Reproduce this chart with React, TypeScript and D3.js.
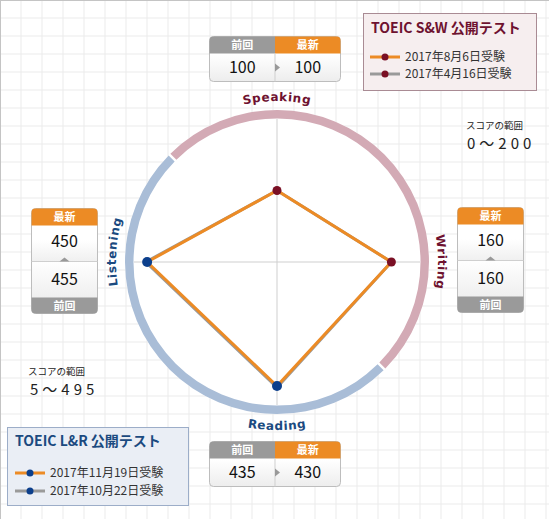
import * as React from "react";
import * as d3 from "d3";

const W = 549;
const H = 519;

// axes clockwise from top
const axisNames = ["Speaking", "Writing", "Reading", "Listening"];
const axisMin = [0, 0, 5, 5];
const axisMax = [200, 200, 495, 495];
const latestScores = [100, 160, 430, 450];
const previousScores = [100, 160, 435, 455];

const swTitle = "TOEIC S&W 公開テスト";
const swDates = ["2017年8月6日受験", "2017年4月16日受験"];
const lrTitle = "TOEIC L&R 公開テスト";
const lrDates = ["2017年11月19日受験", "2017年10月22日受験"];
const rangeCaption = "スコアの範囲";
const swRange = "0～200";
const lrRange = "5～495";

const ORANGE = "#ec8b25";
const GRAY = "#9a9a9a";
const MAROON = "#6e1230";
const NAVY = "#1b4a80";
const JP = "'Noto Sans CJK JP', 'Noto Sans', sans-serif";

const cx = 277;
const cy = 262;
const R = 143;

const HBox = ({ x, y, prev, latest }: { x: number; y: number; prev: number; latest: number }) => {
  const w = 131, h = 45, hh = 17, mid = x + w / 2;
  return (
    <g fontFamily={JP}>
      <rect x={x} y={y} width={w} height={h} rx={4} fill="url(#boxGrad)" stroke="#bdbdbd" />
      <path d={`M${x + 4},${y}H${mid}V${y + hh}H${x}V${y + 4}Q${x},${y} ${x + 4},${y}Z`} fill={GRAY} />
      <path d={`M${mid},${y}H${x + w - 4}Q${x + w},${y} ${x + w},${y + 4}V${y + hh}H${mid}Z`} fill={ORANGE} />
      <line x1={mid} x2={mid} y1={y + hh} y2={y + h} stroke="#cfcfcf" />
      <path d={`M${mid},${y + 27}l5,4l-5,4Z`} fill="#999" />
      <text x={x + w / 4} y={y + 12.5} textAnchor="middle" fontSize={11} fontWeight="bold" fill="#fff">前回</text>
      <text x={x + (3 * w) / 4} y={y + 12.5} textAnchor="middle" fontSize={11} fontWeight="bold" fill="#fff">最新</text>
      <text x={x + w / 4} y={y + 36} textAnchor="middle" fontSize={16} fill="#111">{prev}</text>
      <text x={x + (3 * w) / 4} y={y + 36} textAnchor="middle" fontSize={16} fill="#111">{latest}</text>
    </g>
  );
};

const VBox = ({ x, y, prev, latest }: { x: number; y: number; prev: number; latest: number }) => {
  const w = 66, h = 105, hh = 17, fh = 16, mid = y + 53, c = x + w / 2;
  return (
    <g fontFamily={JP}>
      <rect x={x} y={y} width={w} height={h} rx={4} fill="url(#boxGradV)" stroke="#bdbdbd" />
      <path d={`M${x + 4},${y}H${x + w - 4}Q${x + w},${y} ${x + w},${y + 4}V${y + hh}H${x}V${y + 4}Q${x},${y} ${x + 4},${y}Z`} fill={ORANGE} />
      <path d={`M${x},${y + h - fh}H${x + w}V${y + h - 4}Q${x + w},${y + h} ${x + w - 4},${y + h}H${x + 4}Q${x},${y + h} ${x},${y + h - 4}Z`} fill={GRAY} />
      <line x1={x} x2={x + w} y1={mid} y2={mid} stroke="#cfcfcf" />
      <path d={`M${c - 5},${mid}l5,-4l5,4Z`} fill="#999" />
      <text x={c} y={y + 12.5} textAnchor="middle" fontSize={11} fontWeight="bold" fill="#fff">最新</text>
      <text x={c} y={y + h - 3.5} textAnchor="middle" fontSize={11} fontWeight="bold" fill="#fff">前回</text>
      <text x={c} y={y + 38} textAnchor="middle" fontSize={16} fill="#111">{latest}</text>
      <text x={c} y={y + 76} textAnchor="middle" fontSize={16} fill="#111">{prev}</text>
    </g>
  );
};

export default function App() {
  const scales = axisNames.map((_, i) =>
    d3.scaleLinear().domain([axisMin[i], axisMax[i]]).range([0, R])
  );
  const angle = (i: number) => (i * Math.PI) / 2;
  const radial = d3
    .lineRadial<number>()
    .angle((_, i) => angle(i))
    .radius((d, i) => scales[i](d))
    .curve(d3.curveLinearClosed);
  const pt = (v: number, i: number) => {
    const r = scales[i](v);
    return [Math.sin(angle(i)) * r, -Math.cos(angle(i)) * r];
  };

  const arc = d3.arc<{ s: number; e: number }>()
    .innerRadius(143.5)
    .outerRadius(152)
    .startAngle((d) => d.s)
    .endAngle((d) => d.e)
    .padAngle(0.012);

  const vLines = d3.range(21, W, 21);
  const hLines = d3.range(18, H, 18);

  const rT = 161;
  const rB = 168;
  const topPath = `M${cx - rT},${cy}A${rT},${rT} 0 0 1 ${cx + rT},${cy}`;
  const rightPath = `M${cx},${cy - rT}A${rT},${rT} 0 0 1 ${cx},${cy + rT}`;
  const leftPath = `M${cx},${cy + rT}A${rT},${rT} 0 0 1 ${cx},${cy - rT}`;
  const bottomPath = `M${cx - rB},${cy}A${rB},${rB} 0 0 0 ${cx + rB},${cy}`;
  const labelStyle = { fontFamily: "'DejaVu Sans', sans-serif", fontSize: 12, fontWeight: "bold" as const, letterSpacing: 0.6 };

  return (
    <svg width={W} height={H} style={{ position: "absolute", left: 0, top: 0 }}>
      <defs>
        <linearGradient id="boxGrad" x1="0" y1="0" x2="0" y2="1">
          <stop offset="0.4" stopColor="#ffffff" />
          <stop offset="1" stopColor="#ededed" />
        </linearGradient>
        <linearGradient id="boxGradV" x1="0" y1="0" x2="0" y2="1">
          <stop offset="0.3" stopColor="#ffffff" />
          <stop offset="0.5" stopColor="#f0f0f0" />
          <stop offset="0.5" stopColor="#ffffff" />
          <stop offset="0.85" stopColor="#efefef" />
        </linearGradient>
        <path id="pTop" d={topPath} />
        <path id="pRight" d={rightPath} />
        <path id="pLeft" d={leftPath} />
        <path id="pBottom" d={bottomPath} />
      </defs>
      <rect width={W} height={H} fill="#fff" />
      {vLines.map((x) => (
        <line key={"v" + x} x1={x} x2={x} y1={0} y2={H} stroke="#ebebeb" />
      ))}
      {hLines.map((y) => (
        <line key={"h" + y} x1={0} x2={W} y1={y} y2={y} stroke="#ebebeb" />
      ))}
      <line x1={0.5} x2={0.5} y1={0} y2={H} stroke="#c4c4c4" />
      <line x1={0} x2={W} y1={0.5} y2={0.5} stroke="#c4c4c4" />

      <g transform={`translate(${cx},${cy})`}>
        <circle r={152} fill="#fff" />
        <path d={arc({ s: -Math.PI / 4, e: (3 * Math.PI) / 4 })!} fill="#d3aab5" />
        <path d={arc({ s: (3 * Math.PI) / 4, e: (7 * Math.PI) / 4 })!} fill="#a9bdd7" />
        {axisNames.map((_, i) => {
          const [x, y] = pt(axisMax[i], i);
          return <line key={i} x1={0} y1={0} x2={x} y2={y} stroke="#cfcfcf" />;
        })}
        <path d={radial(previousScores)!} fill="none" stroke={GRAY} strokeWidth={3} strokeLinejoin="round" />
        <path d={radial(latestScores)!} fill="none" stroke={ORANGE} strokeWidth={3} strokeLinejoin="round" />
        {latestScores.map((v, i) => {
          const [x, y] = pt(v, i);
          return <circle key={i} cx={x} cy={y} r={i < 2 ? 4.5 : 5} fill={i < 2 ? "#7a0f24" : "#0c3f8c"} />;
        })}
      </g>

      <text style={labelStyle} fill={MAROON}>
        <textPath href="#pTop" startOffset="50%" textAnchor="middle">{axisNames[0]}</textPath>
      </text>
      <text style={labelStyle} fill={MAROON}>
        <textPath href="#pRight" startOffset="50%" textAnchor="middle">{axisNames[1]}</textPath>
      </text>
      <text style={labelStyle} fill={NAVY}>
        <textPath href="#pBottom" startOffset="50%" textAnchor="middle">{axisNames[2]}</textPath>
      </text>
      <text style={labelStyle} fill={NAVY}>
        <textPath href="#pLeft" startOffset="52%" textAnchor="middle">{axisNames[3]}</textPath>
      </text>

      <HBox x={209.5} y={36.5} prev={previousScores[0]} latest={latestScores[0]} />
      <VBox x={457.5} y={207.5} prev={previousScores[1]} latest={latestScores[1]} />
      <HBox x={209.5} y={441.5} prev={previousScores[2]} latest={latestScores[2]} />
      <VBox x={31.5} y={208.5} prev={previousScores[3]} latest={latestScores[3]} />

      <g fontFamily={JP}>
        <rect x={363.5} y={13.5} width={173} height={77} fill="#f6eeef" stroke="#a98b94" />
        <text x={371} y={33} fontSize={14} fontWeight="bold" fill={MAROON}>{swTitle}</text>
        {swDates.map((d, i) => (
          <g key={d} transform={`translate(0,${57 + i * 17})`}>
            <line x1={370} x2={400} stroke={i === 0 ? ORANGE : GRAY} strokeWidth={3} />
            <circle cx={385} r={3.5} fill="#7a0f24" />
            <text x={405} dy="0.35em" fontSize={12} fill="#333">{d}</text>
          </g>
        ))}
        <text x={466} y={128.5} fontSize={9.5} fill="#222">{rangeCaption}</text>
        <text x={467} y={149} fontSize={15} letterSpacing={4} fill="#222">{swRange}</text>

        <text x={28} y={375} fontSize={9.5} fill="#222">{rangeCaption}</text>
        <text x={30} y={395} fontSize={15} letterSpacing={4} fill="#222">{lrRange}</text>
        <rect x={7.5} y={427.5} width={181} height={78} fill="#eaeef5" stroke="#9cadc8" />
        <text x={15} y={446} fontSize={14} fontWeight="bold" fill={NAVY}>{lrTitle}</text>
        {lrDates.map((d, i) => (
          <g key={d} transform={`translate(0,${473 + i * 18})`}>
            <line x1={15} x2={45} stroke={i === 0 ? ORANGE : GRAY} strokeWidth={3} />
            <circle cx={30} r={3.5} fill="#0c3f8c" />
            <text x={50} dy="0.35em" fontSize={12} fill="#333">{d}</text>
          </g>
        ))}
      </g>
    </svg>
  );
}
